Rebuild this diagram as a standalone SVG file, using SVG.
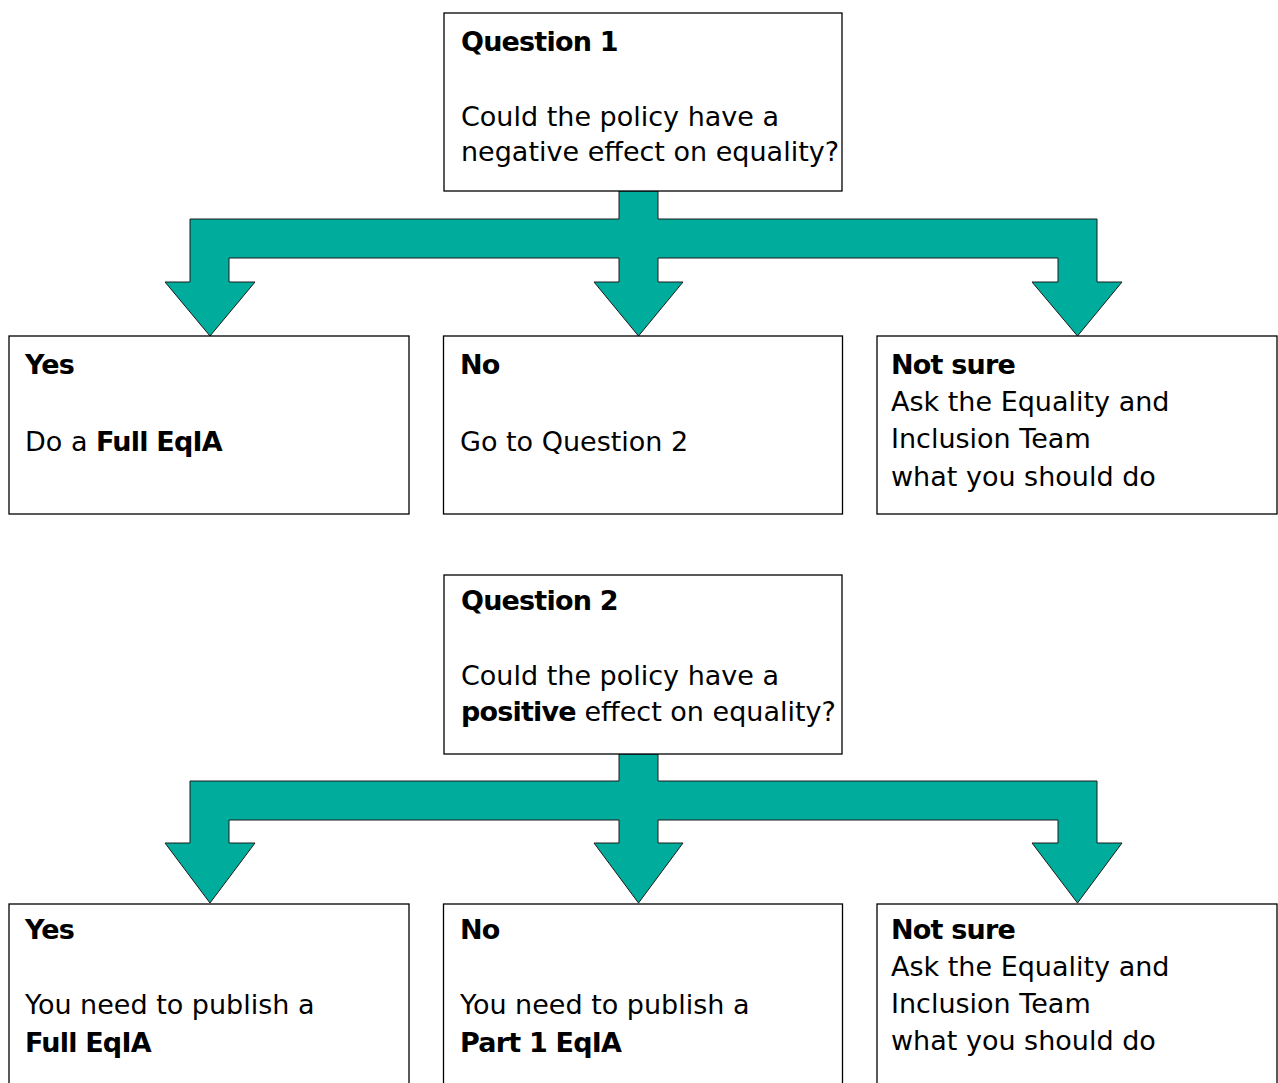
<svg xmlns="http://www.w3.org/2000/svg" width="1278" height="1083" viewBox="0 0 1278 1083">
<style>
  .box { fill: #ffffff; stroke: #000000; stroke-width: 1.3; }
  .arrow { fill: #00ad9d; stroke: #1a1a1a; stroke-width: 1; stroke-linejoin: miter; }
  text { font-family: "DejaVu Sans", "Liberation Sans", sans-serif; font-size: 27px; fill: #000000; }
  .b { font-weight: bold; letter-spacing: -0.8px; }
</style>
<rect x="0" y="0" width="1278" height="1083" fill="#ffffff"/>

<g id="connectors">
  <path class="arrow" d="M619,191 L619,219 L190,219 L190,282 L165,282 L210,336 L255,282 L229,282 L229,258 L619,258 L619,282 L594,282 L638.5,336 L683,282 L658,282 L658,258 L1058,258 L1058,282 L1032,282 L1077.5,336 L1122,282 L1097,282 L1097,219 L658,219 L658,191 Z"/>
  <path class="arrow" d="M619,754 L619,781 L190,781 L190,843 L165,843 L210,903 L255,843 L229,843 L229,820 L619,820 L619,843 L594,843 L638.5,903 L683,843 L658,843 L658,820 L1058,820 L1058,843 L1032,843 L1077.5,903 L1122,843 L1097,843 L1097,781 L658,781 L658,754 Z"/>
</g>

<g id="q1">
  <rect class="box" x="444" y="13" width="398" height="178"/>
  <text x="461" y="51" class="b">Question 1</text>
  <text x="461" y="126">Could the policy have a</text>
  <text x="461" y="161">negative effect on equality?</text>
</g>

<g id="q1-yes">
  <rect class="box" x="9" y="336" width="400" height="178"/>
  <text x="25" y="374" class="b">Yes</text>
  <text x="25" y="451">Do a <tspan class="b">Full EqIA</tspan></text>
</g>

<g id="q1-no">
  <rect class="box" x="443.5" y="336" width="399" height="178"/>
  <text x="460" y="374" class="b">No</text>
  <text x="460" y="451">Go to Question 2</text>
</g>

<g id="q1-notsure">
  <rect class="box" x="877" y="336" width="400" height="178"/>
  <text x="891" y="374" class="b">Not sure</text>
  <text x="891" y="411">Ask the Equality and</text>
  <text x="891" y="448">Inclusion Team</text>
  <text x="891" y="486">what you should do</text>
</g>

<g id="q2">
  <rect class="box" x="444" y="575" width="398" height="179"/>
  <text x="461" y="610" class="b">Question 2</text>
  <text x="461" y="685">Could the policy have a</text>
  <text x="461" y="721"><tspan class="b">positive</tspan> effect on equality?</text>
</g>

<g id="q2-yes">
  <rect class="box" x="9" y="904" width="400" height="200"/>
  <text x="25" y="939" class="b">Yes</text>
  <text x="25" y="1014">You need to publish a</text>
  <text x="25" y="1052" class="b">Full EqIA</text>
</g>

<g id="q2-no">
  <rect class="box" x="443.5" y="904" width="399" height="200"/>
  <text x="460" y="939" class="b">No</text>
  <text x="460" y="1014">You need to publish a</text>
  <text x="460" y="1052" class="b">Part 1 EqIA</text>
</g>

<g id="q2-notsure">
  <rect class="box" x="877" y="904" width="400" height="200"/>
  <text x="891" y="939" class="b">Not sure</text>
  <text x="891" y="976">Ask the Equality and</text>
  <text x="891" y="1013">Inclusion Team</text>
  <text x="891" y="1050">what you should do</text>
</g>
</svg>
